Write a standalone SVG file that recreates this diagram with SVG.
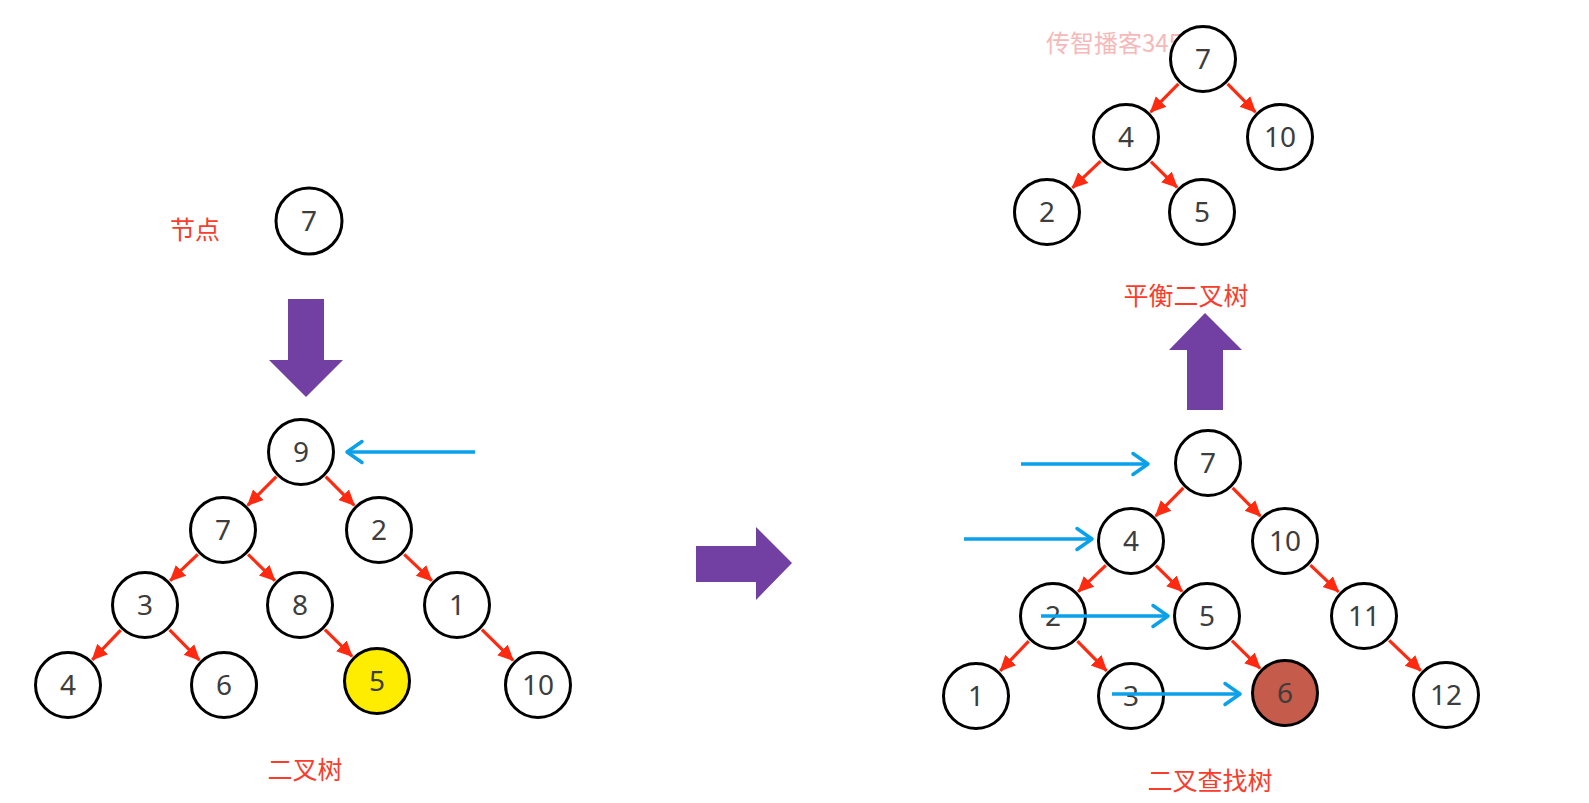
<svg xmlns="http://www.w3.org/2000/svg" width="1589" height="803" viewBox="0 0 1589 803">
<style>
.n{fill:#fff;stroke:#000;stroke-width:3}
.t{font-family:"Noto Sans","Open Sans","Liberation Sans",sans-serif;font-size:28px;fill:#3d3d3d;text-anchor:middle}
.e{stroke:#ff2a10;stroke-width:3.2;fill:none;marker-end:url(#ra)}
.b{stroke:#0aa0ea;stroke-width:3.5;fill:none;marker-end:url(#ba)}
.lbl{font-family:"Noto Sans CJK SC","Noto Sans",sans-serif;font-size:25px;fill:#fa3c2c;text-anchor:middle}
.p{fill:#7140a2}
</style>
<defs>
<marker id="ra" markerUnits="userSpaceOnUse" markerWidth="18" markerHeight="18" viewBox="0 0 18 18" refX="15" refY="9" orient="auto">
<path d="M0,1.5 L16,9 L0,16.5 z" fill="#ff2a10"/>
</marker>
<marker id="ba" markerUnits="userSpaceOnUse" markerWidth="26" markerHeight="28" viewBox="0 0 26 28" refX="19" refY="14" orient="auto">
<path d="M4,3.5 L19,14 L4,24.5" fill="none" stroke="#0aa0ea" stroke-width="3.5" stroke-linecap="round" stroke-linejoin="round"/>
</marker>
</defs>

<!-- watermark -->
<text x="1046" y="52" style="font-family:'Noto Sans CJK SC','Noto Sans',sans-serif;font-size:24px;fill:#f6b9b9">传智播客345</text>

<!-- labels -->
<text class="lbl" x="195" y="239">节点</text>
<text class="lbl" x="305" y="779">二叉树</text>
<text class="lbl" x="1210" y="790">二叉查找树</text>
<text class="lbl" x="1186" y="305">平衡二叉树</text>

<!-- big purple arrows -->
<polygon class="p" points="288,299 324,299 324,360 343,360 306,397 269,360 288,360"/>
<polygon class="p" points="696,546 756,546 756,527 792,563 756,600 756,582 696,582"/>
<polygon class="p" points="1187,410 1187,350 1169,350 1205,313 1242,350 1223,350 1223,410"/>

<g id="connectors">
<!-- left tree -->
<line class="e" x1="276.3" y1="476.7" x2="247.7" y2="505.3"/>
<line class="e" x1="325.7" y1="476.7" x2="354.3" y2="505.3"/>
<line class="e" x1="197.8" y1="554.3" x2="170.2" y2="580.7"/>
<line class="e" x1="248.1" y1="554.4" x2="274.9" y2="580.6"/>
<line class="e" x1="404.2" y1="554.3" x2="431.8" y2="580.7"/>
<line class="e" x1="120.7" y1="630.2" x2="92.3" y2="659.8"/>
<line class="e" x1="169.6" y1="629.9" x2="199.4" y2="660.1"/>
<line class="e" x1="324.9" y1="629.6" x2="352.1" y2="656.4"/>
<line class="e" x1="481.9" y1="629.6" x2="513.1" y2="660.4"/>
<!-- right bottom tree -->
<line class="e" x1="1183.4" y1="487.9" x2="1155.6" y2="516.1"/>
<line class="e" x1="1232.6" y1="487.9" x2="1260.4" y2="516.1"/>
<line class="e" x1="1105.8" y1="565.3" x2="1078.2" y2="591.7"/>
<line class="e" x1="1155.9" y1="565.6" x2="1182.1" y2="591.4"/>
<line class="e" x1="1310.4" y1="565.1" x2="1338.6" y2="591.9"/>
<line class="e" x1="1028.7" y1="641.2" x2="1000.3" y2="670.8"/>
<line class="e" x1="1077.4" y1="641.1" x2="1106.6" y2="670.9"/>
<line class="e" x1="1231.9" y1="640.6" x2="1260.1" y2="668.4"/>
<line class="e" x1="1389.2" y1="640.3" x2="1420.8" y2="670.7"/>
<!-- top tree -->
<line class="e" x1="1178.4" y1="83.9" x2="1150.6" y2="112.1"/>
<line class="e" x1="1227.6" y1="83.9" x2="1255.4" y2="112.1"/>
<line class="e" x1="1100.6" y1="161.1" x2="1072.4" y2="187.9"/>
<line class="e" x1="1150.9" y1="161.6" x2="1177.1" y2="187.4"/>
</g>

<!-- nodes: single -->
<g id="node-single-7"><circle class="n" cx="309" cy="221" r="33"/><text class="t" x="309" y="231">7</text></g>

<!-- left tree -->
<g id="L9"><circle class="n" cx="301" cy="452" r="32.5"/><text class="t" x="301" y="462">9</text></g>
<g id="L7"><circle class="n" cx="223" cy="530" r="32.5"/><text class="t" x="223" y="540">7</text></g>
<g id="L2"><circle class="n" cx="379" cy="530" r="32.5"/><text class="t" x="379" y="540">2</text></g>
<g id="L3"><circle class="n" cx="145" cy="605" r="32.5"/><text class="t" x="145" y="615">3</text></g>
<g id="L8"><circle class="n" cx="300" cy="605" r="32.5"/><text class="t" x="300" y="615">8</text></g>
<g id="L1"><circle class="n" cx="457" cy="605" r="32.5"/><text class="t" x="457" y="615">1</text></g>
<g id="L4"><circle class="n" cx="68" cy="685" r="32.5"/><text class="t" x="68" y="695">4</text></g>
<g id="L6"><circle class="n" cx="224" cy="685" r="32.5"/><text class="t" x="224" y="695">6</text></g>
<g id="L5"><circle class="n" cx="377" cy="681" r="32.5" style="fill:#ffed00"/><text class="t" x="377" y="691">5</text></g>
<g id="L10"><circle class="n" cx="538" cy="685" r="32.5"/><text class="t" x="538" y="695">10</text></g>

<!-- right bottom tree -->
<g id="R7"><circle class="n" cx="1208" cy="463" r="32.5"/><text class="t" x="1208" y="473">7</text></g>
<g id="R4"><circle class="n" cx="1131" cy="541" r="32.5"/><text class="t" x="1131" y="551">4</text></g>
<g id="R10"><circle class="n" cx="1285" cy="541" r="32.5"/><text class="t" x="1285" y="551">10</text></g>
<g id="R2"><circle class="n" cx="1053" cy="616" r="32.5"/><text class="t" x="1053" y="626">2</text></g>
<g id="R5"><circle class="n" cx="1207" cy="616" r="32.5"/><text class="t" x="1207" y="626">5</text></g>
<g id="R11"><circle class="n" cx="1364" cy="616" r="32.5"/><text class="t" x="1364" y="626">11</text></g>
<g id="R1"><circle class="n" cx="976" cy="696" r="32.5"/><text class="t" x="976" y="706">1</text></g>
<g id="R3"><circle class="n" cx="1131" cy="696" r="32.5"/><text class="t" x="1131" y="706">3</text></g>
<g id="R6"><circle class="n" cx="1285" cy="693" r="32.5" style="fill:#c45b4b"/><text class="t" x="1285" y="703">6</text></g>
<g id="R12"><circle class="n" cx="1446" cy="695" r="32.5"/><text class="t" x="1446" y="705">12</text></g>

<!-- top balanced tree -->
<g id="T7"><circle class="n" cx="1203" cy="59" r="32.5"/><text class="t" x="1203" y="69">7</text></g>
<g id="T4"><circle class="n" cx="1126" cy="137" r="32.5"/><text class="t" x="1126" y="147">4</text></g>
<g id="T10"><circle class="n" cx="1280" cy="137" r="32.5"/><text class="t" x="1280" y="147">10</text></g>
<g id="T2"><circle class="n" cx="1047" cy="212" r="32.5"/><text class="t" x="1047" y="222">2</text></g>
<g id="T5"><circle class="n" cx="1202" cy="212" r="32.5"/><text class="t" x="1202" y="222">5</text></g>

<!-- blue pointer arrows (drawn over nodes) -->
<g id="pointers">
<line class="b" x1="475" y1="452" x2="347" y2="452"/>
<line class="b" x1="1021" y1="464" x2="1148" y2="464"/>
<line class="b" x1="964" y1="539" x2="1092" y2="539"/>
<line class="b" x1="1041" y1="616" x2="1168" y2="616"/>
<line class="b" x1="1112" y1="694" x2="1240" y2="694"/>
</g>
</svg>
